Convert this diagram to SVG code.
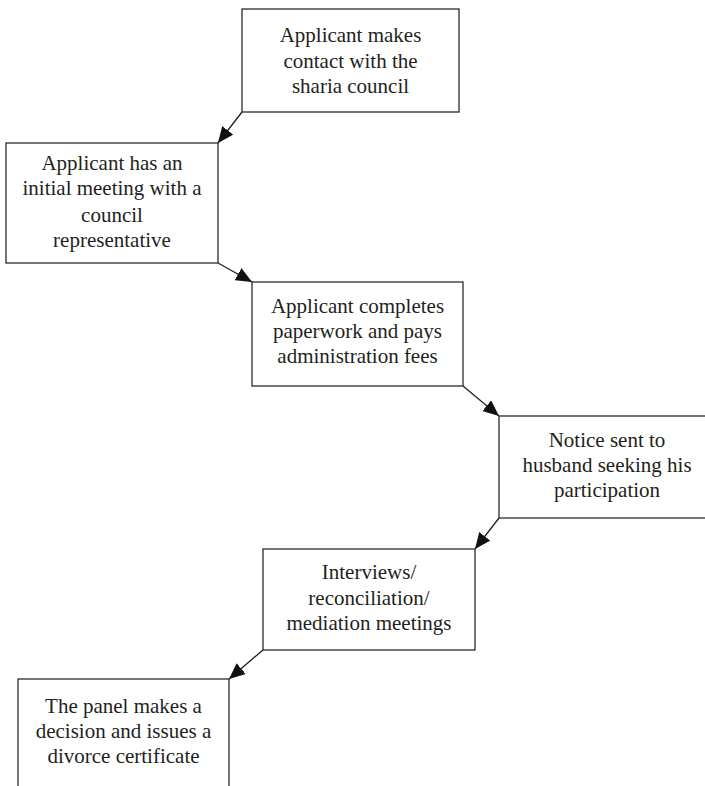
<svg xmlns="http://www.w3.org/2000/svg" width="705" height="786" viewBox="0 0 705 786">
<defs>
<style>
.box{fill:#fff;stroke:#2b2b2b;stroke-width:1.3}
.t{font-family:"Liberation Serif","Times New Roman",serif;font-size:21px;fill:#231f20;text-anchor:middle}
.c{stroke:#231f20;stroke-width:1.3;fill:none;marker-end:url(#ah)}
</style>
<marker id="ah" markerUnits="userSpaceOnUse" markerWidth="17" markerHeight="14" viewBox="0 0 17 14" refX="16" refY="7" orient="auto">
<path d="M0,0 L16,7 L0,14 Z" fill="#111"/>
</marker>
</defs>
<rect width="705" height="786" fill="#fff"/>
<g id="connectors">
<line class="c" x1="242" y1="112" x2="218" y2="143"/>
<line class="c" x1="218" y1="263" x2="252" y2="282"/>
<line class="c" x1="463" y1="386" x2="499" y2="416"/>
<line class="c" x1="499" y1="518" x2="475" y2="549"/>
<line class="c" x1="263" y1="650" x2="229" y2="679"/>
</g>
<g id="n1">
<rect class="box" x="242" y="9" width="217" height="103"/>
<text class="t" x="350.5" y="42">Applicant makes</text>
<text class="t" x="350.5" y="68">contact with the</text>
<text class="t" x="350.5" y="93">sharia council</text>
</g>
<g id="n2">
<rect class="box" x="6" y="143" width="212" height="120"/>
<text class="t" x="112" y="170">Applicant has an</text>
<text class="t" x="112" y="195">initial meeting with a</text>
<text class="t" x="112" y="222">council</text>
<text class="t" x="112" y="247">representative</text>
</g>
<g id="n3">
<rect class="box" x="252" y="282" width="211" height="104"/>
<text class="t" x="357.5" y="313">Applicant completes</text>
<text class="t" x="357.5" y="338">paperwork and pays</text>
<text class="t" x="357.5" y="363">administration fees</text>
</g>
<g id="n4">
<rect class="box" x="499" y="416" width="216" height="102"/>
<text class="t" x="607" y="447">Notice sent to</text>
<text class="t" x="607" y="472">husband seeking his</text>
<text class="t" x="607" y="497">participation</text>
</g>
<g id="n5">
<rect class="box" x="263" y="549" width="212" height="101"/>
<text class="t" x="369" y="579">Interviews/</text>
<text class="t" x="369" y="605">reconciliation/</text>
<text class="t" x="369" y="630">mediation meetings</text>
</g>
<g id="n6">
<rect class="box" x="18" y="679" width="211" height="120"/>
<text class="t" x="123.5" y="713">The panel makes a</text>
<text class="t" x="123.5" y="738">decision and issues a</text>
<text class="t" x="123.5" y="763">divorce certificate</text>
</g>
</svg>
